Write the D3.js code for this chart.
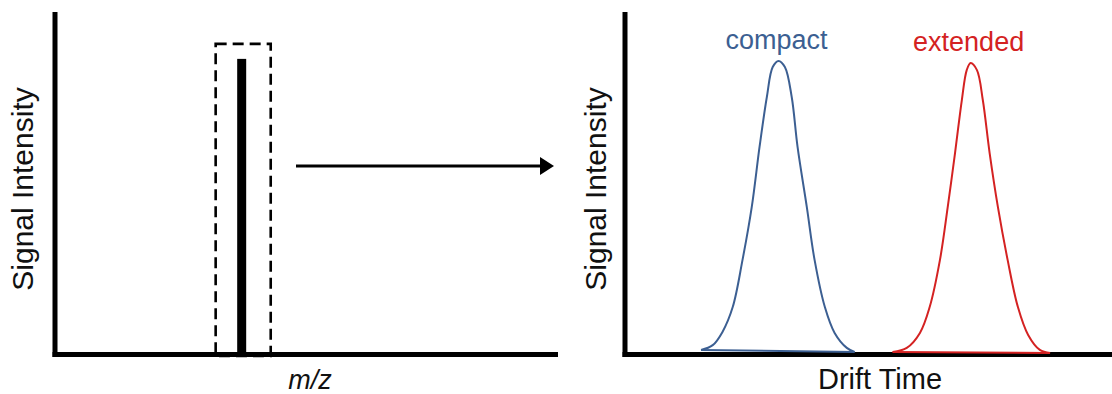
<!DOCTYPE html>
<html><head><meta charset="utf-8">
<script src="https://cdn.jsdelivr.net/npm/d3@7"></script>
<style>body{margin:0;background:#fff}svg{display:block}text{font-family:"Liberation Sans",Arial,sans-serif}</style>
</head><body>
<script>
// ---- data ----
const msPeakMz = [37.4];
const msPeakIntensity = [86.8];
const selectionWindow = [32.2, 43.2]; // m/z window of the dashed box
const selectionTop = 91.2;

const compactDrift = [15.7,18.1,20.1,22.2,24.2,26.1,27.7,29.2,30.4,31.6,32.9,34.3,35.5,37.4,39.0,41.1,43.1,45.6,47.2];
const compactIntensity = [1.2,2.6,6.5,13.8,27.6,43.2,60.9,75.6,84.4,86.2,84.4,75.6,60.9,43.2,27.6,13.8,6.2,1.8,0.6];
const extendedDrift = [55.0,57.9,60.6,62.6,64.7,66.3,67.8,69.2,70.2,71.0,72.3,73.5,74.9,76.6,78.6,80.7,82.8,85.2,87.3];
const extendedIntensity = [0.6,1.8,6.2,13.8,27.6,43.2,59.1,74.7,83.5,85.6,83.5,74.7,59.1,43.2,27.6,13.8,5.6,1.2,0.3];
const seriesNames = ["compact","extended"];
const seriesColors = ["#3c5f92","#d42222"];
const axisLabels = {left:["m/z","Signal Intensity"], right:["Drift Time","Signal Intensity"]};

const W=1112,H=394;
const svg=d3.select("body").append("svg").attr("width",W).attr("height",H);

const y=d3.scaleLinear().domain([0,100]).range([354,14]);
const xL=d3.scaleLinear().domain([0,100]).range([54.5,555]);
const xR=d3.scaleLinear().domain([0,100]).range([624.5,1112]);

function drawAxes(x){
  const gx=svg.append("g").attr("transform",`translate(0,${y(0)})`)
    .call(d3.axisBottom(x).ticks(0).tickSizeOuter(0));
  const gy=svg.append("g").attr("transform",`translate(${x.range()[0]},0)`)
    .call(d3.axisLeft(y).ticks(0).tickSizeOuter(0));
  [gx,gy].forEach(g=>g.select(".domain").attr("stroke","#000").attr("stroke-width",5).attr("stroke-linecap","square"));
}

// ---- left panel: mass spectrum ----
svg.append("rect")
  .attr("x",xL(selectionWindow[0])).attr("y",y(selectionTop))
  .attr("width",xL(selectionWindow[1])-xL(selectionWindow[0]))
  .attr("height",y(-0.6)-y(selectionTop))
  .attr("fill","none").attr("stroke","#000").attr("stroke-width",2.6)
  .attr("stroke-dasharray","11,6");
drawAxes(xL);
svg.selectAll("rect.bar").data(msPeakMz).join("rect").attr("class","bar")
  .attr("x",d=>xL(d)-4.5).attr("width",9)
  .attr("y",(d,i)=>y(msPeakIntensity[i])).attr("height",(d,i)=>y(0)-y(msPeakIntensity[i]))
  .attr("fill","#000");

svg.append("text").attr("x",310).attr("y",389).attr("text-anchor","middle")
  .attr("font-size",27).attr("font-style","italic").attr("fill","#111").text(axisLabels.left[0]);
svg.append("text").attr("transform","translate(33,189) rotate(-90)").attr("text-anchor","middle")
  .attr("font-size",30).attr("fill","#111").text(axisLabels.left[1]);

// arrow
svg.append("line").attr("x1",296).attr("x2",542).attr("y1",166).attr("y2",166)
  .attr("stroke","#000").attr("stroke-width",3);
svg.append("path").attr("d","M540,157L554,166L540,175Z").attr("fill","#000");

// ---- right panel: arrival time distribution ----
drawAxes(xR);
const line=d3.line().x(d=>xR(d[0])).y(d=>y(d[1])).curve(d3.curveCatmullRom.alpha(0.5));
const series=[d3.zip(compactDrift,compactIntensity), d3.zip(extendedDrift,extendedIntensity)];
series.forEach((pts,i)=>{
  svg.append("path").attr("d",line(pts)).attr("fill","none")
    .attr("stroke",seriesColors[i]).attr("stroke-width",2);
  const first=pts[0], last=pts[pts.length-1];
  svg.append("line").attr("x1",xR(first[0])).attr("y1",y(first[1]))
    .attr("x2",xR(last[0])).attr("y2",y(last[1]))
    .attr("stroke",seriesColors[i]).attr("stroke-width",2);
  const peak=pts.reduce((a,b)=>b[1]>a[1]?b:a);
  svg.append("text").attr("x",xR(peak[0])-2).attr("y",y(peak[1])-12)
    .attr("text-anchor","middle").attr("font-size",27).attr("fill",seriesColors[i]).text(seriesNames[i]);
});

svg.append("text").attr("x",880).attr("y",389).attr("text-anchor","middle")
  .attr("font-size",29).attr("fill","#111").text(axisLabels.right[0]);
svg.append("text").attr("transform","translate(606,189) rotate(-90)").attr("text-anchor","middle")
  .attr("font-size",30).attr("fill","#111").text(axisLabels.right[1]);
</script>
</body></html>
